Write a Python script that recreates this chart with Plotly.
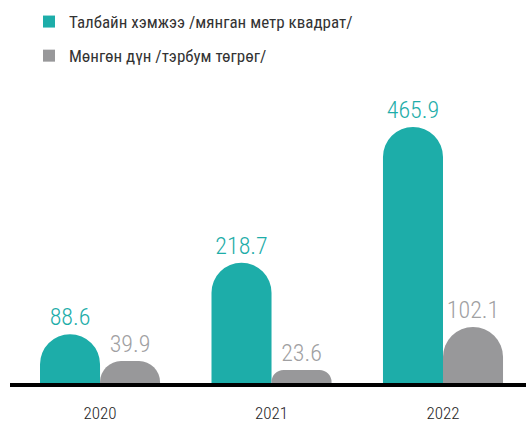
import plotly.graph_objects as go

years = ["2020", "2021", "2022"]
area_values = [88.6, 218.7, 465.9]      # thousand square metres
amount_values = [39.9, 23.6, 102.1]     # billion MNT

area_name = "Талбайн хэмжээ /мянган метр квадрат/"
amount_name = "Мөнгөн дүн /тэрбум төгрөг/"

TEAL = "#1dada9"
GREY = "#98989a"
GREY_TEXT = "#a0a0a2"
FONT = "Roboto Condensed, Roboto, sans-serif"

W, H = 526, 422
LEFT, BOTTOM, TOP = 10, 39, 80

fig = go.Figure()
for vals, name, color, tcolor in [
    (area_values, area_name, TEAL, TEAL),
    (amount_values, amount_name, GREY, GREY_TEXT),
]:
    fig.add_trace(go.Bar(
        x=years, y=vals, name=name, showlegend=False,
        marker=dict(color=color, cornerradius=30, line=dict(width=0)),
        text=[f"{v:.1f}" for v in vals], textposition="outside",
        constraintext="none",
        textfont=dict(color=tcolor, size=24, family=FONT, weight=300),
        cliponaxis=False, hoverinfo="x+y+name",
    ))

# square legend keys
for name, color, grp in [(area_name, TEAL, "a"), (amount_name, GREY, "b")]:
    fig.add_trace(go.Scatter(
        x=[None], y=[None], name=name, legendgroup=grp, mode="markers",
        marker=dict(color=color, symbol="square", size=12, line=dict(width=0)),
        showlegend=True,
    ))

plot_w = W - LEFT
fig.update_layout(
    width=W, height=H,
    margin=dict(l=LEFT, r=0, t=TOP, b=BOTTOM, pad=0),
    paper_bgcolor="white", plot_bgcolor="white",
    barmode="group", bargap=0.30, bargroupgap=0,
    font=dict(family=FONT, color="#333333"),
    showlegend=True,
    legend=dict(
        x=(29 - LEFT) / plot_w, xanchor="left",
        y=1 + (80 - 4) / (H - TOP - BOTTOM), yanchor="top",
        font=dict(size=17, color="#333333", family=FONT),
        tracegroupgap=9, traceorder="grouped",
        bgcolor="rgba(0,0,0,0)", itemclick=False,
    ),
    xaxis=dict(
        type="category", range=[-0.525, 2.484],
        showline=True, linecolor="black", linewidth=4,
        showgrid=False, zeroline=False,
        ticks="outside", ticklen=12, tickcolor="rgba(0,0,0,0)",
        tickfont=dict(size=17, color="#222222", family=FONT, weight=300),
        fixedrange=True,
    ),
    yaxis=dict(
        range=[0, 551.4], visible=False, showgrid=False, zeroline=False,
        fixedrange=True,
    ),
)

fig.write_html("out.html")
